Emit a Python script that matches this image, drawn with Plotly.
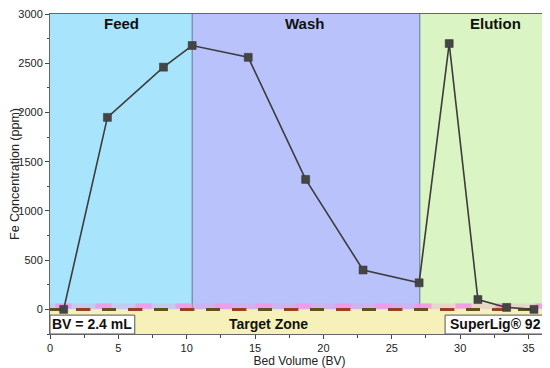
import plotly.graph_objects as go

# Data
bed_volume = [1.0, 4.2, 8.3, 10.4, 14.5, 18.7, 22.9, 27.0, 29.2, 31.3, 33.4, 35.4]
fe_ppm = [0, 1950, 2460, 2680, 2560, 1320, 400, 270, 2700, 100, 20, 0]

phase_names = ["Feed", "Wash", "Elution"]
phase_bounds = [0, 10.4, 27.05, 36.5]
phase_colors = ["#a8e4fb", "#b9c2fb", "#daf5c3"]
phase_label_x = [5.2, 18.6, 32.6]

x_ticks = [0, 5, 10, 15, 20, 25, 30, 35]
y_ticks = [0, 500, 1000, 1500, 2000, 2500, 3000]

FONT = "Liberation Sans, Arial, sans-serif"

fig = go.Figure()

shapes = []
# phase backgrounds
for i in range(3):
    shapes.append(dict(type="rect", xref="x", yref="y", x0=phase_bounds[i], x1=phase_bounds[i + 1],
                       y0=0, y1=3000, fillcolor=phase_colors[i], line_width=0, layer="below"))
# boundaries
for b in phase_bounds[1:3]:
    shapes.append(dict(type="line", xref="x", yref="y", x0=b, x1=b, y0=0, y1=3000,
                       line=dict(color="#5a7a90", width=1), layer="below"))
# target zone (yellow below zero)
shapes.append(dict(type="rect", xref="x", yref="y", x0=0, x1=36.5, y0=-250, y1=0,
                   fillcolor="#f6f1b8", line_width=0, layer="below"))
# pink band
shapes.append(dict(type="rect", xref="x", yref="y", x0=0, x1=36.5, y0=0, y1=60,
                   fillcolor="rgba(255,150,210,0.3)", line_width=0, layer="below"))
# label boxes
shapes.append(dict(type="rect", xref="x", yref="y", x0=0, x1=6.2, y0=-250, y1=-58,
                   fillcolor="white", line=dict(color="#555555", width=1), layer="above"))
shapes.append(dict(type="rect", xref="x", yref="y", x0=28.9, x1=36.5, y0=-250, y1=-58,
                   fillcolor="white", line=dict(color="#555555", width=1), layer="above"))

# pink dashed band
fig.add_trace(go.Scatter(x=[0.4, 36.5], y=[35, 35], mode="lines",
                         line=dict(color="rgba(245,150,230,0.85)", width=5, dash="16px,24px"),
                         hoverinfo="skip", showlegend=False))
# dashed zero line (two colors)
fig.add_trace(go.Scatter(x=[0, 36.5], y=[0, 0], mode="lines",
                         line=dict(color="#65501f", width=3, dash="14px,12px"),
                         hoverinfo="skip", showlegend=False))
fig.add_trace(go.Scatter(x=[1.93, 36.5], y=[0, 0], mode="lines",
                         line=dict(color="#9a3f22", width=3, dash="14px,38px"),
                         hoverinfo="skip", showlegend=False))

fig.add_trace(go.Scatter(x=bed_volume, y=fe_ppm, mode="lines+markers",
                         line=dict(color="#3c3c3c", width=1.6),
                         marker=dict(symbol="square", size=8, color="#454545",
                                     line=dict(color="#333333", width=0.5)),
                         showlegend=False))

annotations = []
for name, xp in zip(phase_names, phase_label_x):
    annotations.append(dict(x=xp, y=2900, xref="x", yref="y", text=f"<b>{name}</b>",
                            showarrow=False, font=dict(size=15, color="#111111", family=FONT)))
annotations.append(dict(x=3.1, y=-150, xref="x", yref="y", text="<b>BV = 2.4 mL</b>",
                        showarrow=False, font=dict(size=14, color="#111111", family=FONT)))
annotations.append(dict(x=32.6, y=-150, xref="x", yref="y", text="<b>SuperLig® 92</b>",
                        showarrow=False, font=dict(size=14, color="#111111", family=FONT)))
annotations.append(dict(x=16.0, y=-150, xref="x", yref="y", text="<b>Target Zone</b>",
                        showarrow=False, font=dict(size=14, color="#111111", family=FONT)))

# page has ~8px body margin, so figure is sized/offset to compensate
fig.update_layout(
    width=542, height=360,
    margin=dict(l=42, r=1, t=6, b=34),
    paper_bgcolor="white", plot_bgcolor="white",
    shapes=shapes, annotations=annotations,
    font=dict(family=FONT, size=11, color="#222222"),
    showlegend=False,
)
fig.update_xaxes(range=[0, 36.5], tickvals=x_ticks, ticks="outside", ticklen=4, tickcolor="#444",
                 showline=True, linecolor="#666666", linewidth=1, mirror=True, showgrid=False,
                 zeroline=False, tickfont=dict(size=11), automargin=False, ticklabeloverflow="allow",
                 minor=dict(ticks="outside", dtick=2.5, ticklen=2.5, tickcolor="#444"),
                 title=dict(text="Bed Volume (BV)", font=dict(size=12), standoff=0))
fig.update_yaxes(range=[-250, 3000], tickvals=y_ticks, ticks="outside", ticklen=4, tickcolor="#444",
                 showline=True, linecolor="#666666", linewidth=1, mirror=True, showgrid=False,
                 zeroline=False, tickfont=dict(size=11), automargin=False, ticklabeloverflow="allow",
                 minor=dict(ticks="outside", tick0=0, dtick=250, ticklen=2.5, tickcolor="#444"),
                 title=dict(text="Fe Concentration (ppm)", font=dict(size=12.5), standoff=6))

fig.write_html("out.html")
